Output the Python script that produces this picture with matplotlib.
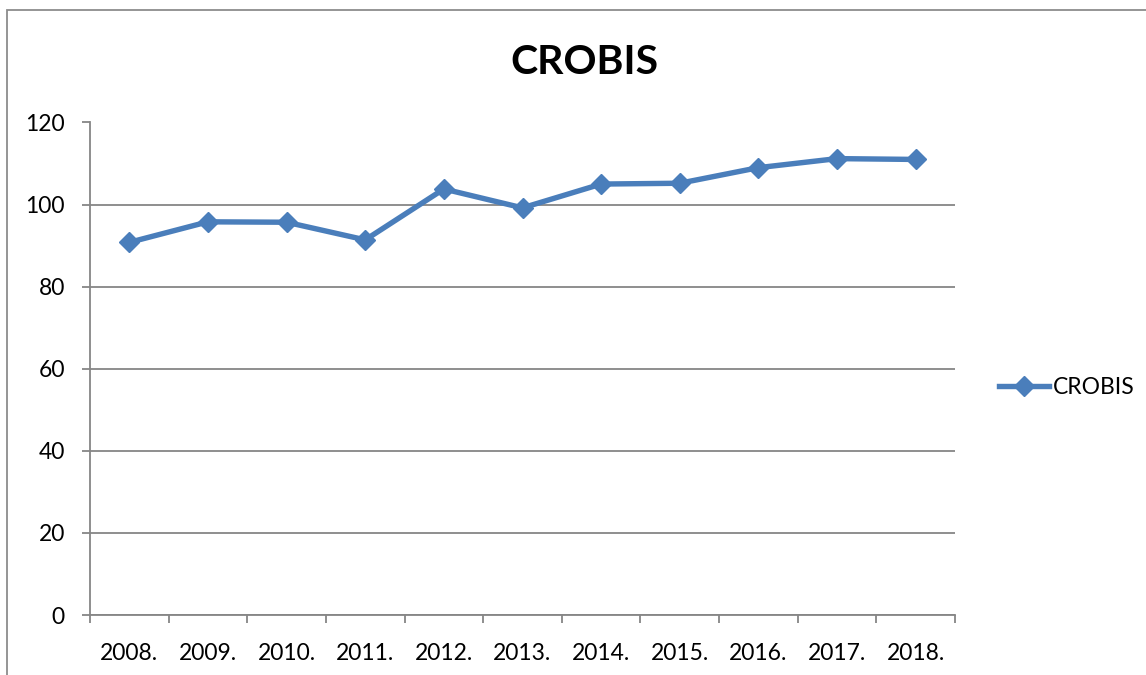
import matplotlib.pyplot as plt
from matplotlib.patches import Rectangle

years = ["2008.", "2009.", "2010.", "2011.", "2012.", "2013.",
         "2014.", "2015.", "2016.", "2017.", "2018."]
crobis = [90.8, 95.8, 95.7, 91.4, 103.8, 99.2, 105.0, 105.2, 109.0, 111.2, 111.0]
y_ticks = [0, 20, 40, 60, 80, 100, 120]

plt.rcParams['font.family'] = ['Lato', 'DejaVu Sans']

W, H = 1146, 675
fig = plt.figure(figsize=(W / 100, H / 100), dpi=100)
ax = fig.add_axes([90 / W, 1 - 615 / H, 865 / W, 492.5 / H])

grey = '#868686'
blue = '#4a7ebb'

x = list(range(len(years)))
ax.plot(x, crobis, color=blue, lw=3.9, marker='D', ms=10,
        solid_joinstyle='round', label='CROBIS', zorder=3)

ax.set_xlim(-0.5, len(years) - 0.5)
ax.set_ylim(0, 120)
ax.set_yticks(y_ticks)
ax.set_xticks(x)
ax.set_xticklabels(years)
ax.set_xticks([i - 0.5 for i in range(len(years) + 1)], minor=True)
ax.tick_params(axis='x', which='major', length=0, pad=20, labelsize=16.5)
ax.tick_params(axis='x', which='minor', length=6, width=1.3, color=grey, direction='out')
ax.tick_params(axis='y', length=6, width=1.3, color=grey, pad=12, labelsize=16.5)

ax.yaxis.grid(True, color=grey, lw=1.3)
ax.set_axisbelow(True)
for s in ['top', 'right']:
    ax.spines[s].set_visible(False)
for s in ['left', 'bottom']:
    ax.spines[s].set_color(grey)
    ax.spines[s].set_linewidth(1.3)

fig.text(584 / W, 1 - 62 / H, "CROBIS", ha='center', va='center',
         fontsize=29.5, fontweight='bold')

fig.legend(loc='center left', bbox_to_anchor=(978 / W, 1 - 388 / H),
           frameon=False, fontsize=16.5, handlelength=2.2, handletextpad=0.15)

# outer chart frame
fig.patches.append(Rectangle((7 / W, -0.1), 1.2, (1 - 10 / H) + 0.1,
                             transform=fig.transFigure, fill=False,
                             edgecolor='#8c8c8c', lw=1.3))

fig.savefig('out.png', dpi=100)
